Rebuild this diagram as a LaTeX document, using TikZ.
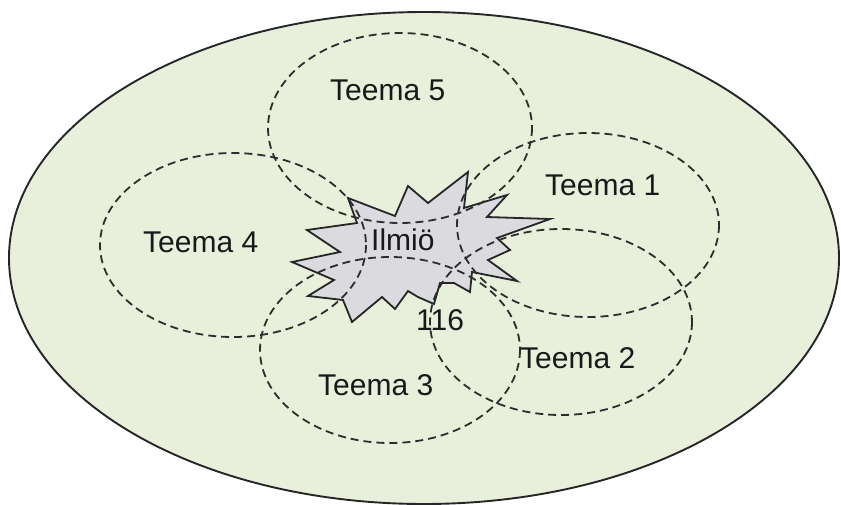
\documentclass[tikz,border=0pt]{standalone}
\usepackage{fontspec}
\setmainfont{Liberation Sans}
\definecolor{bgfill}{RGB}{232,240,219}
\definecolor{burstfill}{RGB}{218,218,223}
\definecolor{dashcol}{RGB}{45,45,45}
\tikzset{
  outer/.style={draw=black!85, line width=1.9pt, fill=bgfill},
  themeline/.style={draw=dashcol, line width=1.8pt, dash pattern=on 8pt off 5pt},
  burst/.style={draw=black!85, line width=1.8pt, fill=burstfill, line join=miter},
  lbl/.style={anchor=base west, inner sep=0pt, text=black!90, font=\fontsize{30}{36}\selectfont}
}
\begin{document}
\begin{tikzpicture}[x=1pt,y=-1pt]
\useasboundingbox (0,0) rectangle (841,504);
% big ellipse
\path[outer] (424,258) ellipse [x radius=415, y radius=246];
% starburst
\path[burst] (348,198) -- (395,216) -- (408,186) -- (428,203) -- (468,172) -- (464,208)
  -- (507,195) -- (487,217) -- (550,219) -- (497,238) -- (510,250) -- (488,260)
  -- (517,281) -- (472,272) -- (470,292) -- (454,283) -- (440,283) -- (434,304)
  -- (418,297) -- (408,291) -- (395,309) -- (382,297) -- (352,322) -- (343,300)
  -- (308,296) -- (334,280) -- (292,262) -- (340,252) -- (307,230) -- (357,223) -- cycle;
% theme ellipses
\path[themeline] (400,128) ellipse [x radius=132, y radius=95];
\path[themeline] (588,225) ellipse [x radius=131, y radius=92];
\path[themeline] (233,245) ellipse [x radius=133, y radius=92];
\path[themeline] (561,322) ellipse [x radius=131, y radius=93];
\path[themeline] (390,350) ellipse [x radius=130, y radius=93];
% labels
\node[lbl] (t5) at (330,100) {Teema 5};
\node[lbl] (t1) at (545,195) {Teema 1};
\node[lbl] (t4) at (143,252) {Teema 4};
\node[lbl] (t2) at (520,368) {Teema 2};
\node[lbl] (t3) at (318,395) {Teema 3};
\node[lbl] (ilmio) at (371,250) {Ilmiö};
\node[lbl] (num) at (416,330) {116};
\end{tikzpicture}
\end{document}
